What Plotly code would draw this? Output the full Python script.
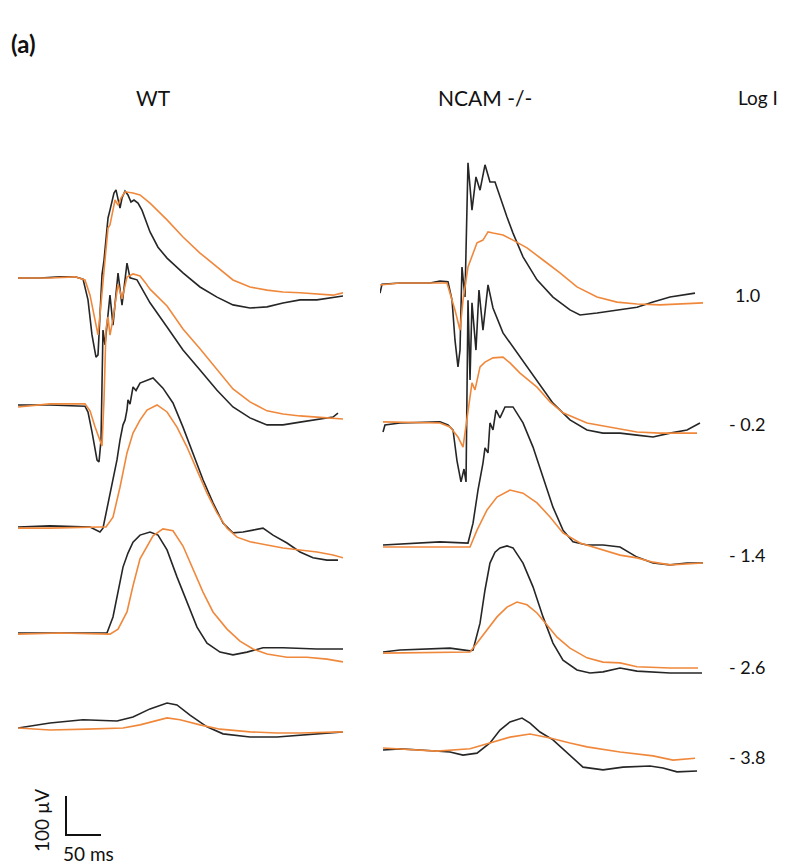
import plotly.graph_objects as go

# ---------------- DATA (time in ms, amplitude in µV relative to each trace's baseline) -------------
LOG_I = ["1.0", "- 0.2", "- 1.4", "- 2.6", "- 3.8"]
GROUPS = ["WT", "NCAM -/-"]

# WT, log I = 1.0
WT1_BLK_T = [0, 31.4, 60, 81.4, 92.9, 100, 105.7, 111.4, 114.3, 117.1, 120, 122.9, 125.7, 128.6, 131.4, 134.3, 137.1, 140, 142.9, 145.7, 148.6, 152.9, 157.1, 161.4, 165.7, 171.4, 177.1, 182.9, 188.6, 200, 212.9, 235.7, 260, 284.3, 307.1, 331.4, 355.7, 378.6, 402.9, 427.1, 450, 464.3]
WT1_BLK_V = [0, 0, 3, 3, -3, -56, -146, -203, -197, -108, 8, 46, 110, 154, 174, 200, 218, 226, 200, 179, 205, 223, 213, 195, 200, 192, 174, 144, 118, 79, 51, 13, -23, -49, -69, -77, -74, -64, -56, -56, -51, -46]
WT1_ORG_T = [0, 45.7, 81.4, 95.7, 102.9, 110, 114.3, 117.1, 120, 124.3, 128.6, 131.4, 134.3, 138.6, 142.9, 147.1, 152.9, 164.3, 174.3, 188.6, 212.9, 235.7, 260, 284.3, 307.1, 331.4, 355.7, 378.6, 402.9, 450, 464.3]
WT1_ORG_V = [0, 0, 3, -5, -44, -108, -146, -95, -31, 46, 128, 136, 162, 200, 187, 205, 221, 218, 213, 192, 149, 105, 64, 28, -5, -23, -31, -36, -38, -44, -38]

# WT, log I = -0.2
WT2_BLK_T = [0, 45.7, 95.7, 100, 105.7, 110, 112.9, 115.7, 118.6, 121.4, 124.3, 131.4, 135.7, 142.9, 148.6, 155.7, 160, 170, 188.6, 212.9, 235.7, 260, 284.3, 307.1, 331.4, 355.7, 378.6, 402.9, 427.1, 450, 457.1]
WT2_BLK_V = [0, 0, -3, -18, -69, -115, -141, -146, -90, 192, 154, 282, 205, 338, 256, 364, 326, 321, 262, 200, 141, 90, 38, -5, -33, -51, -51, -44, -38, -31, -21]
WT2_ORG_T = [0, 45.7, 95.7, 102.9, 110, 115.7, 120, 122.9, 125.7, 128.6, 131.4, 135.7, 142.9, 148.6, 155.7, 164.3, 174.3, 181.4, 188.6, 212.9, 235.7, 260, 284.3, 307.1, 331.4, 355.7, 378.6, 402.9, 427.1, 464.3]
WT2_ORG_V = [-5, 3, 3, -15, -56, -87, -105, 15, 195, 226, 179, 220, 310, 272, 328, 336, 331, 315, 297, 254, 195, 144, 92, 41, 8, -15, -23, -28, -31, -36]

# WT, log I = -1.4
WT3_BLK_T = [0, 45.7, 102.9, 112.9, 117.1, 121.4, 131.4, 141.4, 145.7, 150, 152.9, 155.7, 157.1, 160, 164.3, 168.6, 174.3, 184.3, 192.9, 207.1, 221.4, 235.7, 250, 264.3, 278.6, 292.9, 307.1, 321.4, 335.7, 350, 364.3, 384.3, 402.9, 421.4, 441.4, 457.1]
WT3_BLK_V = [0, 3, 0, -8, -13, -3, 87, 172, 223, 262, 274, 300, 326, 315, 359, 350, 369, 377, 382, 356, 318, 256, 190, 121, 62, 10, -15, -13, -8, -3, -21, -41, -64, -79, -85, -85]
WT3_ORG_T = [0, 45.7, 117.1, 125.7, 135.7, 145.7, 155.7, 164.3, 174.3, 184.3, 198.6, 212.9, 227.1, 241.4, 255.7, 270, 284.3, 298.6, 312.9, 331.4, 355.7, 378.6, 402.9, 427.1, 450, 464.3]
WT3_ORG_V = [-3, -3, 0, 0, 25, 102, 190, 241, 274, 300, 313, 295, 256, 205, 146, 87, 36, -3, -26, -38, -46, -54, -59, -64, -72, -79]

# WT, log I = -2.6
WT4_BLK_T = [0, 60, 127.1, 135.7, 142.9, 150, 157.1, 164.3, 174.3, 188.6, 200, 212.9, 227.1, 241.4, 255.7, 270, 288.6, 307.1, 327.1, 350, 378.6, 427.1, 464.3]
WT4_BLK_V = [0, 0, 0, 41, 103, 169, 205, 233, 251, 259, 251, 213, 144, 77, 15, -26, -49, -56, -49, -38, -38, -41, -41]
WT4_ORG_T = [0, 60, 131.4, 142.9, 155.7, 164.3, 174.3, 184.3, 192.9, 207.1, 221.4, 235.7, 250, 264.3, 278.6, 298.6, 317.1, 335.7, 355.7, 384.3, 412.9, 441.4, 464.3]
WT4_ORG_V = [-3, 0, -3, 10, 54, 121, 190, 223, 249, 267, 262, 223, 164, 105, 54, 10, -21, -41, -54, -62, -62, -67, -74]

# WT, log I = -3.8
WT5_BLK_T = [0, 45.7, 92.9, 141.4, 164.3, 188.6, 212.9, 227.1, 245.7, 270, 292.9, 331.4, 370, 402.9, 464.3]
WT5_BLK_V = [0, 13, 21, 18, 28, 49, 64, 59, 33, 3, -15, -23, -23, -18, -10]
WT5_ORG_T = [0, 45.7, 98.6, 150, 174.3, 212.9, 231.4, 260, 288.6, 331.4, 370, 402.9, 464.3]
WT5_ORG_V = [0, -5, -3, 0, 8, 26, 21, 8, -3, -10, -13, -13, -10]

# NCAM -/-, log I = 1.0
NC1_BLK_T = [0, 2.9, 28.6, 71.4, 85.7, 97.1, 102.9, 107.1, 111.4, 114.3, 117.1, 121.4, 125.7, 131.4, 137.1, 142.9, 150, 157.1, 164.3, 171.4, 181.4, 190, 204.3, 224.3, 247.1, 271.4, 285.7, 310, 342.9, 367.1, 390, 414.3, 450]
NC1_BLK_V = [-26, -3, 0, 0, 5, 3, -44, -146, -215, -172, 41, -36, 308, 187, 272, 238, 303, 259, 259, 221, 169, 128, 67, 8, -36, -69, -82, -77, -69, -62, -49, -36, -26]
NC1_ORG_T = [0, 28.6, 95.7, 100, 107.1, 114.3, 118.6, 125.7, 131.4, 138.6, 147.1, 154.3, 161.4, 175.7, 190, 210, 232.9, 257.1, 281.4, 310, 338.6, 367.1, 400, 461.4]
NC1_ORG_V = [-5, 0, 0, -26, -69, -121, -44, 41, 67, 103, 110, 131, 128, 123, 110, 90, 59, 26, -10, -36, -49, -54, -56, -51]

# NCAM -/-, log I = -0.2
NC2_BLK_T = [4.3, 7.1, 28.6, 85.7, 97.1, 104.3, 110, 115.7, 120, 122.9, 125.7, 128.6, 131.4, 137.1, 141.4, 147.1, 154.3, 161.4, 175.7, 200, 224.3, 247.1, 271.4, 295.7, 318.6, 342.9, 367.1, 390, 414.3, 438.6, 457.1]
NC2_BLK_V = [-23, -5, 0, 3, -5, -18, -97, -151, -118, -151, 315, 110, 308, 187, 341, 238, 354, 295, 231, 169, 110, 51, 8, -18, -26, -26, -31, -36, -26, -18, 0]
NC2_ORG_T = [4.3, 85.7, 100, 111.4, 118.6, 125.7, 131.4, 135.7, 142.9, 150, 161.4, 175.7, 185.7, 200, 224.3, 242.9, 261.4, 295.7, 328.6, 367.1, 400, 452.9]
NC2_ORG_V = [3, 0, -10, -36, -62, 33, 103, 85, 144, 156, 167, 169, 154, 128, 92, 54, 26, 0, -10, -23, -26, -26]

# NCAM -/-, log I = -1.4
NC3_BLK_T = [4.3, 85.7, 125.7, 132.9, 140, 147.1, 150, 154.3, 157.1, 161.4, 165.7, 171.4, 178.6, 190, 204.3, 218.6, 232.9, 247.1, 261.4, 275.7, 295.7, 318.6, 342.9, 367.1, 390, 414.3, 438.6, 461.4]
NC3_BLK_V = [0, 8, 5, 56, 141, 210, 249, 236, 313, 295, 346, 326, 354, 354, 313, 251, 174, 97, 38, 8, 0, 0, -5, -31, -46, -51, -46, -46]
NC3_ORG_T = [4.3, 114.3, 128.6, 138.6, 152.9, 167.1, 185.7, 204.3, 224.3, 242.9, 261.4, 285.7, 318.6, 342.9, 367.1, 390, 414.3, 461.4]
NC3_ORG_V = [-5, -5, -5, 38, 90, 123, 141, 133, 108, 72, 31, 5, -13, -26, -33, -44, -51, -46]

# NCAM -/-, log I = -2.6
NC4_BLK_T = [4.3, 28.6, 100, 128.6, 132.9, 142.9, 150, 157.1, 164.3, 171.4, 181.4, 190, 204.3, 218.6, 232.9, 247.1, 261.4, 281.4, 300, 318.6, 342.9, 367.1, 414.3, 460]
NC4_BLK_V = [0, 5, 10, 3, 5, 74, 159, 228, 256, 267, 272, 267, 228, 167, 90, 23, -21, -46, -54, -51, -41, -49, -54, -54]
NC4_ORG_T = [4.3, 128.6, 138.6, 152.9, 167.1, 181.4, 195.7, 210, 224.3, 238.6, 252.9, 271.4, 295.7, 318.6, 342.9, 367.1, 414.3, 454.3]
NC4_ORG_V = [-3, 0, 23, 56, 90, 115, 128, 121, 100, 69, 38, 10, -15, -26, -28, -38, -41, -41]

# NCAM -/-, log I = -3.8
NC5_BLK_T = [4.3, 28.6, 57.1, 100, 118.6, 138.6, 157.1, 171.4, 185.7, 202.9, 214.3, 228.6, 247.1, 271.4, 290, 318.6, 347.1, 385.7, 404.3, 424.3, 452.9]
NC5_BLK_V = [0, 3, 0, -5, -13, -8, 18, 51, 72, 82, 69, 46, 26, -13, -44, -51, -44, -41, -46, -56, -54]
NC5_ORG_T = [4.3, 81.4, 128.6, 157.1, 185.7, 214.3, 242.9, 271.4, 295.7, 342.9, 390, 418.6, 450]
NC5_ORG_V = [5, -3, 3, 18, 33, 41, 31, 18, 8, -5, -15, -26, -21]

# ---------------- LAYOUT CONSTANTS ----------------
W, H = 790, 865
UV_PER_PX = 100 / 39.0          # vertical scale (scale bar: 100 µV)
MS_PER_PX = 50 / 35.0           # horizontal scale (scale bar: 50 ms)
T_SPAN = 325 * MS_PER_PX        # time shown in each column
WT_ROW_PX = [278, 405, 527, 633, 728]     # baseline rows (pixels from top)
NC_ROW_PX = [283, 423, 545, 652, 750]
BLACK = "#262626"
ORANGE = "#f0883c"
FONT = "Lato"

wt = [(WT1_BLK_T, WT1_BLK_V, WT1_ORG_T, WT1_ORG_V),
      (WT2_BLK_T, WT2_BLK_V, WT2_ORG_T, WT2_ORG_V),
      (WT3_BLK_T, WT3_BLK_V, WT3_ORG_T, WT3_ORG_V),
      (WT4_BLK_T, WT4_BLK_V, WT4_ORG_T, WT4_ORG_V),
      (WT5_BLK_T, WT5_BLK_V, WT5_ORG_T, WT5_ORG_V)]
nc = [(NC1_BLK_T, NC1_BLK_V, NC1_ORG_T, NC1_ORG_V),
      (NC2_BLK_T, NC2_BLK_V, NC2_ORG_T, NC2_ORG_V),
      (NC3_BLK_T, NC3_BLK_V, NC3_ORG_T, NC3_ORG_V),
      (NC4_BLK_T, NC4_BLK_V, NC4_ORG_T, NC4_ORG_V),
      (NC5_BLK_T, NC5_BLK_V, NC5_ORG_T, NC5_ORG_V)]

fig = go.Figure()


def add_col(rows, row_px, xa):
    for (bt, bv, ot, ov), rp in zip(rows, row_px):
        off = -rp * UV_PER_PX
        fig.add_trace(go.Scatter(x=bt, y=[off + v for v in bv], mode="lines", xaxis=xa, yaxis="y",
                                 line=dict(color=BLACK, width=1.6), hoverinfo="skip", showlegend=False))
        fig.add_trace(go.Scatter(x=ot, y=[off + v for v in ov], mode="lines", xaxis=xa, yaxis="y",
                                 line=dict(color=ORANGE, width=1.6), hoverinfo="skip", showlegend=False))


add_col(wt, WT_ROW_PX, "x")
add_col(nc, NC_ROW_PX, "x2")

# scale bar: 50 ms x 100 µV
sb_t0 = (66 - 18) * MS_PER_PX
sb_y0 = -835 * UV_PER_PX
fig.add_trace(go.Scatter(x=[sb_t0, sb_t0, sb_t0 + 50], y=[sb_y0 + 100, sb_y0, sb_y0], mode="lines",
                         xaxis="x", yaxis="y", line=dict(color="#111111", width=2),
                         hoverinfo="skip", showlegend=False))

ax_common = dict(visible=False, showgrid=False, zeroline=False, fixedrange=True)
fig.update_layout(
    width=W, height=H, margin=dict(l=0, r=0, t=0, b=0),
    paper_bgcolor="white", plot_bgcolor="white",
    xaxis=dict(domain=[18 / W, 343 / W], range=[0, T_SPAN], **ax_common),
    xaxis2=dict(domain=[380 / W, 705 / W], range=[0, T_SPAN], anchor="y", **ax_common),
    yaxis=dict(domain=[0, 1], range=[-H * UV_PER_PX, 0], **ax_common),
    font=dict(family=FONT, color="#111111"),
)


def txt(s, px, py, size, bold=False, angle=0, xanchor="center"):
    fig.add_annotation(text=f"<b>{s}</b>" if bold else s, x=px / W, y=1 - py / H,
                       xref="paper", yref="paper", showarrow=False, xanchor=xanchor, yanchor="middle",
                       textangle=angle, font=dict(family=FONT, size=size, color="#111111"))


txt("(a)", 9, 43, 24, bold=True, xanchor="left")
txt(GROUPS[0], 153, 97, 21)
txt(GROUPS[1], 485, 97, 21)
txt("Log I", 758, 97, 19)
for lab, py in zip(LOG_I, [295, 424, 555, 667, 757]):
    txt(lab, 747, py, 18)
txt("100 µV", 41, 821, 19, angle=-90)
txt("50 ms", 88, 853, 19)

fig.write_html("out.html")
